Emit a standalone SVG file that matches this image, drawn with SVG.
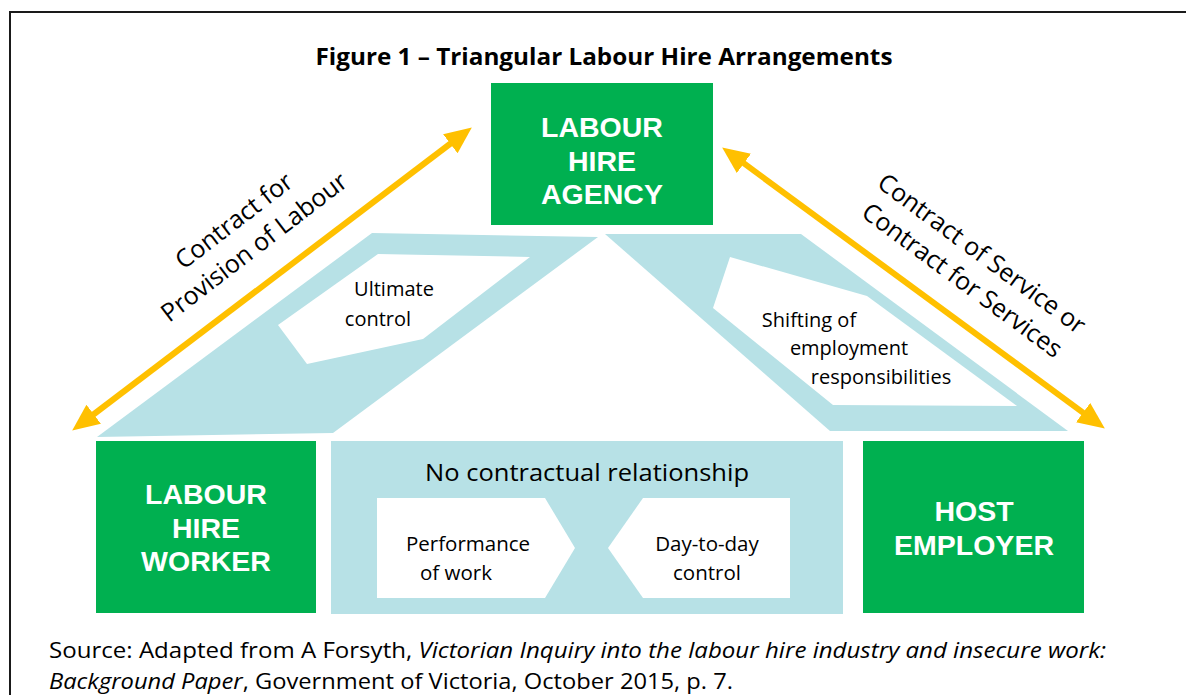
<svg xmlns="http://www.w3.org/2000/svg" width="1186" height="695" viewBox="0 0 1186 695">
  <style>
    .frame { fill: none; stroke: #1a1a1a; stroke-width: 2; }
    .green { fill: #00B050; }
    .band { fill: #B7E1E6; }
    .hole { fill: #FFFFFF; }
    .box-label { font-family: "Liberation Sans", Arial, sans-serif; font-weight: bold; font-size: 28.5px; fill: #FFFFFF; text-anchor: middle; }
    .body { font-family: "Open Sans", "Liberation Sans", sans-serif; fill: #000000; text-anchor: middle; }
    .title { font-family: "Open Sans", "Liberation Sans", sans-serif; font-weight: bold; font-size: 23px; fill: #000000; text-anchor: middle; }
    .source { font-family: "Open Sans", "Liberation Sans", sans-serif; font-size: 21px; fill: #000000; }
    .contract { fill: none; stroke: #FFC000; stroke-width: 6; }
  </style>
  <defs>
    <marker id="head" markerUnits="userSpaceOnUse" markerWidth="28" markerHeight="24" refX="2" refY="12" orient="auto-start-reverse">
      <path d="M0,0 L27,12 L0,24 z" fill="#FFC000"/>
    </marker>
  </defs>

  <rect width="1186" height="695" fill="#FFFFFF"/>
  <!-- page frame: left and top rules -->
  <path class="frame" d="M10,700 L10,12 L1190,12"/>

  <text class="title" x="604" y="65" textLength="577" lengthAdjust="spacingAndGlyphs">Figure 1 – Triangular Labour Hire Arrangements</text>

  <!-- agency to worker band -->
  <g id="ultimate-control">
    <path class="band" d="M97,437 L372,233 L598,237 L333,433 Z"/>
    <path class="hole" d="M378,254 L530,257 L423,339 L307,364 L278,325 Z"/>
    <text class="body" font-size="20" x="394" y="296">Ultimate</text>
    <text class="body" font-size="20" x="378" y="326">control</text>
  </g>

  <!-- agency to host band -->
  <g id="shifting-responsibilities">
    <path class="band" d="M605,234 L801,234 L1068,431 L830,431 Z"/>
    <path class="hole" d="M730,257 L867,296 L1017,406 L833,405 L713,308 Z"/>
    <text class="body" font-size="20" x="809" y="327">Shifting of</text>
    <text class="body" font-size="20" x="849" y="355">employment</text>
    <text class="body" font-size="20" x="881" y="384">responsibilities</text>
  </g>

  <g id="labour-hire-agency">
    <rect class="green" x="491" y="83" width="222" height="142"/>
    <text class="box-label" x="602" y="137">LABOUR</text>
    <text class="box-label" x="602" y="171">HIRE</text>
    <text class="box-label" x="602" y="204">AGENCY</text>
  </g>

  <g id="labour-hire-worker">
    <rect class="green" x="96" y="441" width="220" height="172"/>
    <text class="box-label" x="206" y="504">LABOUR</text>
    <text class="box-label" x="206" y="538">HIRE</text>
    <text class="box-label" x="206" y="571">WORKER</text>
  </g>

  <g id="no-contractual-relationship">
    <rect class="band" x="331" y="441" width="512" height="173"/>
    <text class="body" font-size="24" x="587" y="481" textLength="324" lengthAdjust="spacingAndGlyphs">No contractual relationship</text>
    <path class="hole" d="M377,498 L545,498 L575,548 L545,598 L377,598 Z"/>
    <path class="hole" d="M643,498 L790,498 L790,598 L643,598 L608,548 Z"/>
    <text class="body" font-size="20.5" x="468" y="551">Performance</text>
    <text class="body" font-size="20.5" x="456" y="580">of work</text>
    <text class="body" font-size="20.5" x="707" y="551">Day-to-day</text>
    <text class="body" font-size="20.5" x="707" y="580">control</text>
  </g>

  <g id="host-employer">
    <rect class="green" x="863" y="441" width="221" height="172"/>
    <text class="box-label" x="974" y="521">HOST</text>
    <text class="box-label" x="974" y="555">EMPLOYER</text>
  </g>

  <g id="connectors">
    <line class="contract" x1="92.1" y1="415.5" x2="451.9" y2="142.5" marker-start="url(#head)" marker-end="url(#head)"/>
    <line class="contract" x1="742.3" y1="162.2" x2="1084.7" y2="413.8" marker-start="url(#head)" marker-end="url(#head)"/>
    <g transform="translate(244,234) rotate(-37.5)">
      <text class="body" font-size="25" x="0" y="-8">Contract for</text>
      <text class="body" font-size="25" x="0" y="25">Provision of Labour</text>
    </g>
    <g transform="translate(972,267) rotate(36.4)">
      <text class="body" font-size="25" x="0" y="-8">Contract of Service or</text>
      <text class="body" font-size="25" x="0" y="25">Contract for Services</text>
    </g>
  </g>

  <text class="source" x="49" y="658" textLength="1057" lengthAdjust="spacingAndGlyphs">Source: Adapted from A Forsyth, <tspan font-style="italic">Victorian Inquiry into the labour hire industry and insecure work:</tspan></text>
  <text class="source" x="49" y="689" textLength="684" lengthAdjust="spacingAndGlyphs"><tspan font-style="italic">Background Paper</tspan>, Government of Victoria, October 2015, p. 7.</text>
</svg>
